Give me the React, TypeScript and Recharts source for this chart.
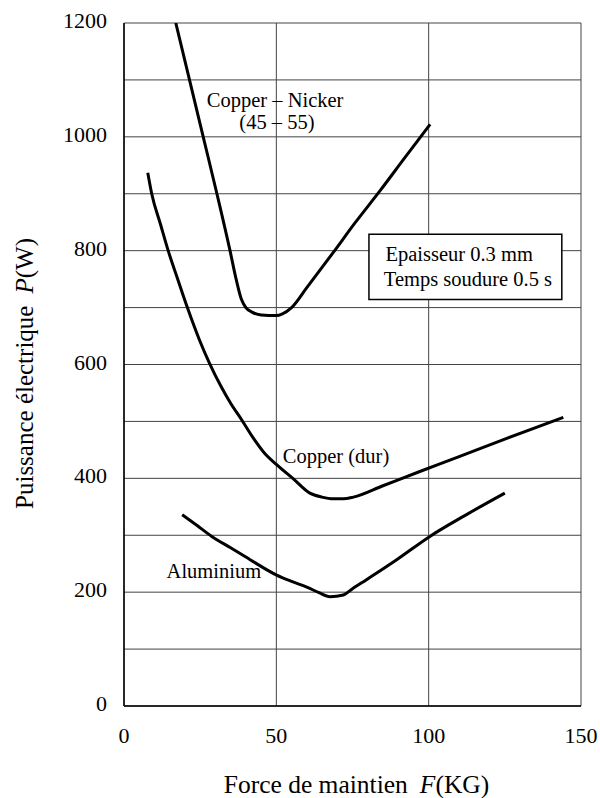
import React from 'react';
import { LineChart, Line, XAxis, YAxis, CartesianGrid, ReferenceArea, ReferenceDot } from 'recharts';

// Force de maintien F (KG) / Puissance électrique P (W)
const cuNiF = [17, 21.5, 26, 30.5, 34.8, 36.8, 38.5, 40, 42, 45, 50, 52, 55, 60, 68.7, 76, 84, 92, 100.5];
const cuNiP = [1200, 1100, 1000, 900, 800, 750, 715, 700, 692, 687, 686, 689, 700, 735, 797, 850, 905, 962, 1022];

const cuDurF = [7.8, 9.1, 12, 14.5, 17.5, 20.8, 24.7, 28, 32, 35, 38.6, 42.4, 46, 50.1, 55.6, 61, 65, 68.7, 72, 75.3, 85, 97.1, 110, 125, 144.2];
const cuDurP = [937, 900, 846, 800, 752, 700, 644, 603, 560, 532, 503, 471, 445, 424, 399, 374, 367, 364, 364, 367, 387, 412, 438, 469, 507];

const aluF = [19.1, 24, 28.8, 35, 41.4, 50.1, 55, 60, 64, 67.6, 72, 75, 79.6, 89.5, 100.4, 112, 125];
const aluP = [336, 317, 298, 278, 257, 230, 219, 209, 199, 192, 195, 206, 222, 257, 298, 335, 374];

const xTicks = [0, 50, 100, 150];
const yTicks = [0, 100, 200, 300, 400, 500, 600, 700, 800, 900, 1000, 1100, 1200];

const toPts = (fs: number[], ps: number[]) => fs.map((f, i) => ({ f, p: ps[i] }));
const cuNi = toPts(cuNiF, cuNiP);
const cuDur = toPts(cuDurF, cuDurP);
const alu = toPts(aluF, aluP);

const FONT = "'Liberation Serif', 'Times New Roman', serif";
const txt = { fontFamily: FONT };

const XTick = (props: any) => (
  <text x={props.x} y={props.y} dy={37} textAnchor="middle" style={txt} fontSize={22} fill="#000">
    {props.payload.value}
  </text>
);

const YTick = (props: any) => {
  if (props.payload.value % 200 !== 0) return <g />;
  return (
    <text x={props.x} y={props.y} dy={5} textAnchor="end" style={txt} fontSize={22} fill="#000">
      {props.payload.value}
    </text>
  );
};

const note = (value: string) => ({
  value,
  position: 'center' as const,
  style: txt,
  fontSize: 20.5,
  fill: '#000',
});

export default function App() {
  return (
    <div style={{ position: 'absolute', left: 0, top: 0, width: 600, height: 798, background: '#fff', fontFamily: FONT }}>
      <LineChart width={600} height={798} margin={{ top: 23, right: 19, bottom: 0, left: 0 }} style={txt}>
        <CartesianGrid stroke="#444" strokeWidth={1} />
        <XAxis
          type="number"
          dataKey="f"
          domain={[0, 150]}
          ticks={xTicks}
          allowDataOverflow
          height={92}
          tickSize={0}
          tickMargin={0}
          tick={<XTick />}
          axisLine={{ stroke: '#000', strokeWidth: 1.5 }}
          label={{
            content: (p: any) => {
              const vb = p.viewBox;
              return (
                <text x={vb.x + vb.width / 2 + 4} y={vb.y + 87} textAnchor="middle" style={txt} fontSize={25.5} fill="#000">
                  Force de maintien
                  <tspan dx={12} fontStyle="italic">F</tspan>
                  <tspan>(KG)</tspan>
                </text>
              );
            },
          }}
        />
        <YAxis
          type="number"
          domain={[0, 1200]}
          ticks={yTicks}
          allowDataOverflow
          width={124}
          tickSize={0}
          tickMargin={17}
          tick={<YTick />}
          axisLine={{ stroke: '#000', strokeWidth: 1.5 }}
          label={{
            content: (p: any) => {
              const vb = p.viewBox;
              const cx = 33;
              const cy = vb.y + vb.height / 2 + 9;
              return (
                <text x={cx} y={cy} transform={`rotate(-90, ${cx}, ${cy})`} textAnchor="middle" style={txt} fontSize={25} fill="#000">
                  Puissance électrique
                  <tspan dx={12} fontStyle="italic">P</tspan>
                  <tspan>(W)</tspan>
                </text>
              );
            },
          }}
        />
        <ReferenceArea x1={80.4} x2={143.7} y1={714} y2={829} fill="#fff" fillOpacity={1} stroke="#000" strokeWidth={1.5} />
        <ReferenceDot x={110} y={794} r={0} fill="none" stroke="none" label={note('Epaisseur 0.3 mm')} />
        <ReferenceDot x={112.9} y={750} r={0} fill="none" stroke="none" label={note('Temps soudure 0.5 s')} />
        <ReferenceDot x={49.6} y={1066} r={0} fill="none" stroke="none" label={note('Copper – Nicker')} />
        <ReferenceDot x={50.2} y={1027} r={0} fill="none" stroke="none" label={note('(45 – 55)')} />
        <ReferenceDot x={69.6} y={440} r={0} fill="none" stroke="none" label={note('Copper (dur)')} />
        <ReferenceDot x={29.5} y={238} r={0} fill="none" stroke="none" label={note('Aluminium')} />
        <Line data={cuNi} dataKey="p" type="monotone" stroke="#000" strokeWidth={3} dot={false} isAnimationActive={false} />
        <Line data={cuDur} dataKey="p" type="monotone" stroke="#000" strokeWidth={3} dot={false} isAnimationActive={false} />
        <Line data={alu} dataKey="p" type="monotone" stroke="#000" strokeWidth={3} dot={false} isAnimationActive={false} />
      </LineChart>
    </div>
  );
}
